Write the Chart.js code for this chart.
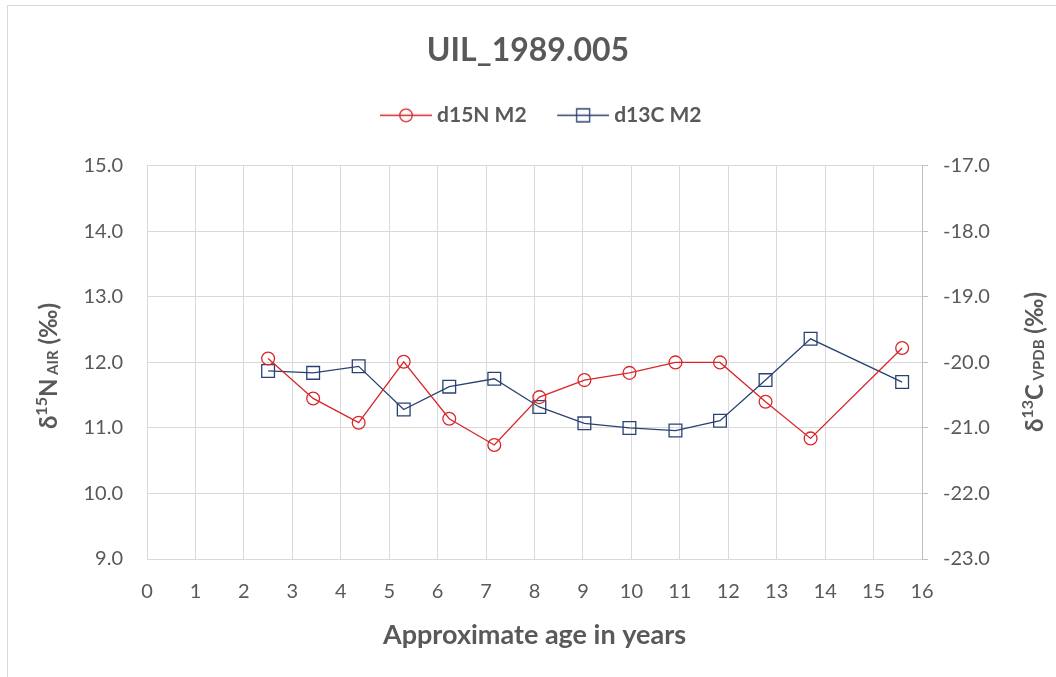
<!DOCTYPE html>
<html>
<head>
<meta charset="utf-8">
<title>UIL_1989.005</title>
<script src="https://cdn.jsdelivr.net/npm/chart.js@4.4.1/dist/chart.umd.min.js"></script>
<style>
  html, body { margin: 0; padding: 0; background: #fff; }
  canvas { display: block; }
</style>
</head>
<body>
<canvas id="isoChart" width="1056" height="677"></canvas>
<script>
// values
const ages = [2.50, 3.43, 4.37, 5.30, 6.24, 7.17, 8.10, 9.03, 9.96, 10.91, 11.83, 12.77, 13.70, 15.59];
const d15N = [12.06, 11.45, 11.08, 12.01, 11.14, 10.74, 11.47, 11.73, 11.84, 12.00, 12.00, 11.40, 10.84, 12.22];
const d13C = [-20.13, -20.16, -20.06, -20.72, -20.37, -20.25, -20.68, -20.93, -21.00, -21.04, -20.89, -20.27, -19.64, -20.30];

const xTicks = [0, 1, 2, 3, 4, 5, 6, 7, 8, 9, 10, 11, 12, 13, 14, 15, 16];
const nTicks = [9, 10, 11, 12, 13, 14, 15];
const cTicks = [-23, -22, -21, -20, -19, -18, -17];

const seriesNames = ['d15N M2', 'd13C M2'];
const leftTitle = [
  { text: 'δ', size: 24, rise: 0 },
  { text: '15', size: 16, rise: 10 },
  { text: 'N', size: 24, rise: 0 },
  { text: ' AIR', size: 15, rise: -1 },
  { text: ' (‰)', size: 24, rise: 0 }
];
const rightTitle = [
  { text: 'δ', size: 24, rise: 0 },
  { text: '13', size: 16, rise: 10 },
  { text: 'C', size: 24, rise: 0 },
  { text: ' VPDB', size: 15, rise: -1 },
  { text: ' (‰)', size: 24, rise: 0 }
];

const FONT = 'Lato';
const TEXT = '#595959';
const GRID = '#d9d9d9';
const RED = '#d9262b';
const BLUE = '#2a4272';

// legend swatch: a short line with the marker on it (Excel style)
function legendSwatch(color, shape) {
  const c = document.createElement('canvas');
  c.width = 83;
  c.height = 17;
  const g = c.getContext('2d');
  g.strokeStyle = color;
  g.lineWidth = 1.3;
  g.beginPath();
  g.moveTo(31, 8.5);
  g.lineTo(83, 8.5);
  g.stroke();
  g.beginPath();
  if (shape === 'circle') {
    g.arc(57, 8.5, 6.3, 0, Math.PI * 2);
  } else {
    g.rect(50.5, 2, 13, 13);
  }
  g.stroke();
  return c;
}
const swatches = [legendSwatch(RED, 'circle'), legendSwatch(BLUE, 'rect')];

function drawRotatedTitle(ctx, x, y, parts) {
  ctx.save();
  ctx.translate(x, y);
  ctx.rotate(-Math.PI / 2);
  ctx.fillStyle = TEXT;
  ctx.textBaseline = 'alphabetic';
  ctx.textAlign = 'left';
  let total = 0;
  parts.forEach(p => {
    ctx.font = `bold ${p.size}px ${FONT}`;
    p.w = ctx.measureText(p.text).width;
    total += p.w;
  });
  let cx = -total / 2;
  parts.forEach(p => {
    ctx.font = `bold ${p.size}px ${FONT}`;
    ctx.fillText(p.text, cx, -p.rise);
    cx += p.w;
  });
  ctx.restore();
}

const chartFrame = {
  id: 'chartFrame',
  beforeLayout(chart) {
    // leave the gap Excel has between legend and plot area
    const lg = chart.legend;
    if (lg && !lg._gapPatched) {
      const fit = lg.fit.bind(lg);
      lg.fit = function () { fit(); this.height += 30; };
      lg._gapPatched = true;
    }
  },
  beforeDraw(chart) {
    const ctx = chart.ctx;
    ctx.save();
    ctx.fillStyle = '#fff';
    ctx.fillRect(0, 0, chart.width, chart.height);
    ctx.strokeStyle = GRID;
    ctx.lineWidth = 1;
    ctx.strokeRect(7.5, 5.5, chart.width + 10, chart.height + 10);
    ctx.restore();
  },
  afterDraw(chart) {
    drawRotatedTitle(chart.ctx, 57, 366, leftTitle);
    drawRotatedTitle(chart.ctx, 1043, 362, rightTitle);
  }
};

const ctx = document.getElementById('isoChart').getContext('2d');

new Chart(ctx, {
  type: 'line',
  data: {
    datasets: [
      {
        label: seriesNames[0],
        data: ages.map((a, i) => ({ x: a, y: d15N[i] })),
        yAxisID: 'y',
        borderColor: RED,
        borderWidth: 1.3,
        pointStyle: 'circle',
        pointRadius: 6.4,
        pointBorderWidth: 1.3,
        pointBorderColor: RED,
        pointBackgroundColor: 'rgba(0,0,0,0)',
        tension: 0,
        fill: false
      },
      {
        label: seriesNames[1],
        data: ages.map((a, i) => ({ x: a, y: d13C[i] })),
        yAxisID: 'y2',
        borderColor: BLUE,
        borderWidth: 1.3,
        pointStyle: 'rect',
        pointRadius: 9,
        pointBorderWidth: 1.3,
        pointBorderColor: BLUE,
        pointBackgroundColor: 'rgba(0,0,0,0)',
        tension: 0,
        fill: false
      }
    ]
  },
  options: {
    responsive: false,
    animation: false,
    events: [],
    layout: { padding: 0 },
    plugins: {
      title: {
        display: true,
        text: 'UIL_1989.005',
        color: TEXT,
        font: { family: FONT, size: 32, weight: 'bold' },
        padding: { top: 31.5, bottom: 29.9 }
      },
      legend: {
        position: 'top',
        labels: {
          usePointStyle: true,
          pointStyleWidth: 72,
          padding: 5,
          color: TEXT,
          font: { family: FONT, size: 21, weight: 'bold' },
          generateLabels(chart) {
            const items = Chart.defaults.plugins.legend.labels.generateLabels(chart);
            items.forEach((it, i) => {
              it.pointStyle = swatches[i];
              it.fontColor = TEXT;
            });
            return items;
          }
        }
      },
      tooltip: { enabled: false }
    },
    scales: {
      x: {
        type: 'linear',
        min: 0,
        max: 16,
        afterBuildTicks: s => { s.ticks = xTicks.map(v => ({ value: v })); },
        afterFit: s => { s.height = 118; },
        ticks: {
          color: TEXT,
          font: { family: FONT, size: 20 },
          padding: 21,
          maxRotation: 0,
          autoSkip: false,
          callback: v => String(v)
        },
        grid: { color: GRID, lineWidth: 1, drawTicks: false },
        border: { color: GRID, width: 1 },
        title: {
          display: true,
          text: 'Approximate age in years',
          color: TEXT,
          font: { family: FONT, size: 27, weight: 'bold' },
          padding: { top: 4, bottom: 26 }
        }
      },
      y: {
        type: 'linear',
        position: 'left',
        min: 9,
        max: 15,
        afterBuildTicks: s => { s.ticks = nTicks.map(v => ({ value: v })); },
        afterFit: s => { s.width = 147; },
        ticks: {
          color: TEXT,
          font: { family: FONT, size: 20 },
          padding: 24,
          callback: v => v.toFixed(1)
        },
        grid: { color: GRID, lineWidth: 1, drawTicks: false },
        border: { color: GRID, width: 1 }
      },
      y2: {
        type: 'linear',
        position: 'right',
        min: -23,
        max: -17,
        afterBuildTicks: s => { s.ticks = cTicks.map(v => ({ value: v })); },
        afterFit: s => { s.width = 134; },
        ticks: {
          color: TEXT,
          font: { family: FONT, size: 20 },
          padding: 15,
          callback: v => v.toFixed(1)
        },
        grid: { color: '#bfbfbf', lineWidth: 1, drawOnChartArea: false, drawTicks: true, tickLength: 6 },
        border: { color: '#bfbfbf', width: 1 }
      }
    }
  },
  plugins: [chartFrame]
});
</script>
</body>
</html>
